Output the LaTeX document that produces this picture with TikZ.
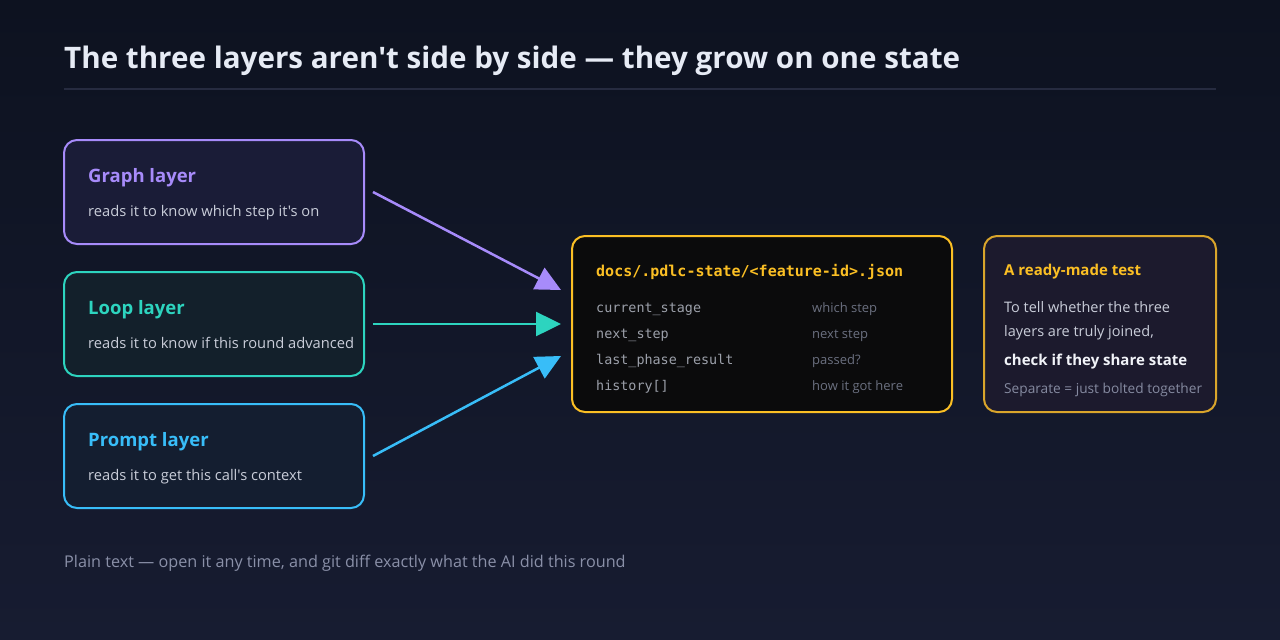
\documentclass[tikz,border=0pt]{standalone}
\usepackage{fontspec}
\newfontfamily\uif{Open Sans}
\newfontfamily\monof{DejaVu Sans Mono}
\usetikzlibrary{arrows.meta}
\definecolor{bgtop}{HTML}{0D1220}
\definecolor{bgbot}{HTML}{171C31}
\definecolor{titlec}{HTML}{E6EBF5}
\definecolor{rulec}{HTML}{262B40}
\definecolor{purp}{HTML}{A78BFA}
\definecolor{purpfill}{HTML}{1A1C37}
\definecolor{teal}{HTML}{2DD4BF}
\definecolor{tealfill}{HTML}{13202B}
\definecolor{skyb}{HTML}{38BDF8}
\definecolor{skyfill}{HTML}{141E30}
\definecolor{subc}{HTML}{C9CDD9}
\definecolor{amber}{HTML}{FBBF24}
\definecolor{jsonfill}{HTML}{0B0B0C}
\definecolor{testborder}{HTML}{D9A52B}
\definecolor{testfill}{HTML}{1C1A2D}
\definecolor{monoc}{HTML}{9CA0AA}
\definecolor{rightc}{HTML}{6B7080}
\definecolor{boldc}{HTML}{F1F3F8}
\definecolor{sepc}{HTML}{858AA0}
\definecolor{footc}{HTML}{8A90A8}
\tikzset{
  layerbox/.style={draw, line width=2pt, rounded corners=13pt, minimum width=300pt, minimum height=104pt, inner sep=0pt},
  txt/.style={anchor=base west, inner sep=0pt},
  ttl/.style={txt, font=\uif\fontsize{18.5}{22}\selectfont\bfseries},
  sub/.style={txt, text=subc, font=\uif\fontsize{14.7}{17}\selectfont},
  mrow/.style={txt, text=monoc, font=\monof\fontsize{13.4}{16}\selectfont},
  rcol/.style={txt, text=rightc, font=\uif\fontsize{13}{16}\selectfont},
  conn/.style={line width=2.5pt, -{Triangle[length=25pt,width=24pt]}},
}
\begin{document}
\begin{tikzpicture}[x=1pt,y=-1pt]
\useasboundingbox (0,0) rectangle (1280,640);
\shade[top color=bgtop, bottom color=bgbot] (0,0) rectangle (1280,640);

% title
\node[txt, text=titlec, font=\uif\fontsize{29.6}{34}\selectfont\bfseries] (title) at (64,68) {The three layers aren't side by side — they grow on one state};
\draw[rulec, line width=2pt] (64,89) -- (1216,89);

% layer boxes
\node[layerbox, draw=purp, fill=purpfill] (graph) at (214,192) {};
\node[ttl, text=purp] (graphT) at (88,182) {Graph layer};
\node[sub] (graphS) at (88,216) {reads it to know which step it's on};

\node[layerbox, draw=teal, fill=tealfill] (loop) at (214,324) {};
\node[ttl, text=teal] (loopT) at (88,314) {Loop layer};
\node[sub] (loopS) at (88,348) {reads it to know if this round advanced};

\node[layerbox, draw=skyb, fill=skyfill] (prompt) at (214,456) {};
\node[ttl, text=skyb] (promptT) at (88,446) {Prompt layer};
\node[sub] (promptS) at (88,480) {reads it to get this call's context};

% json box
\node[draw=amber, fill=jsonfill, line width=2pt, rounded corners=13pt, minimum width=380pt, minimum height=176pt, inner sep=0pt] (json) at (762,324) {};
\node[txt, text=amber, font=\monof\fontsize{15}{18}\selectfont\bfseries] (jsonT) at (596,276) {docs/.pdlc-state/<feature-id>.json};
\node[mrow] (k1) at (596,312) {current\_stage};
\node[mrow] (k2) at (596,338) {next\_step};
\node[mrow] (k3) at (596,364) {last\_phase\_result};
\node[mrow] (k4) at (596,390) {history[]};
\node[rcol] (v1) at (812,312) {which step};
\node[rcol] (v2) at (812,338) {next step};
\node[rcol] (v3) at (812,364) {passed?};
\node[rcol] (v4) at (812,390) {how it got here};

% test box
\node[draw=testborder, fill=testfill, line width=2pt, rounded corners=13pt, minimum width=232pt, minimum height=176pt, inner sep=0pt] (test) at (1100,324) {};
\node[txt, text=amber, font=\uif\fontsize{15}{17}\selectfont\bfseries] (testT) at (1004,275) {A ready-made test};
\node[txt, text=subc, font=\uif\fontsize{14.5}{17}\selectfont] (testL1) at (1004,312) {To tell whether the three};
\node[txt, text=subc, font=\uif\fontsize{14.5}{17}\selectfont] (testL2) at (1004,336) {layers are truly joined,};
\node[txt, text=boldc, font=\uif\fontsize{15}{18}\selectfont\bfseries] (testL3) at (1004,365) {check if they share state};
\node[txt, text=sepc, font=\uif\fontsize{13.7}{16}\selectfont] (testL4) at (1004,393) {Separate = just bolted together};

% connectors
\coordinate (gOut) at ([xshift=8pt]graph.east);
\coordinate (lOut) at ([xshift=8pt]loop.east);
\coordinate (pOut) at ([xshift=8pt]prompt.east);
\coordinate (gIn) at ([xshift=-10pt,yshift=34pt]json.west);
\coordinate (lIn) at ([xshift=-10pt]json.west);
\coordinate (pIn) at ([xshift=-10pt,yshift=-32pt]json.west);
\draw[conn, purp] (gOut) -- (gIn);
\draw[conn, teal] (lOut) -- (lIn);
\draw[conn, skyb] (pOut) -- (pIn);

% footer
\node[txt, text=footc, font=\uif\fontsize{16.2}{19}\selectfont] (foot) at (64,567) {Plain text — open it any time, and git diff exactly what the AI did this round};
\end{tikzpicture}
\end{document}
